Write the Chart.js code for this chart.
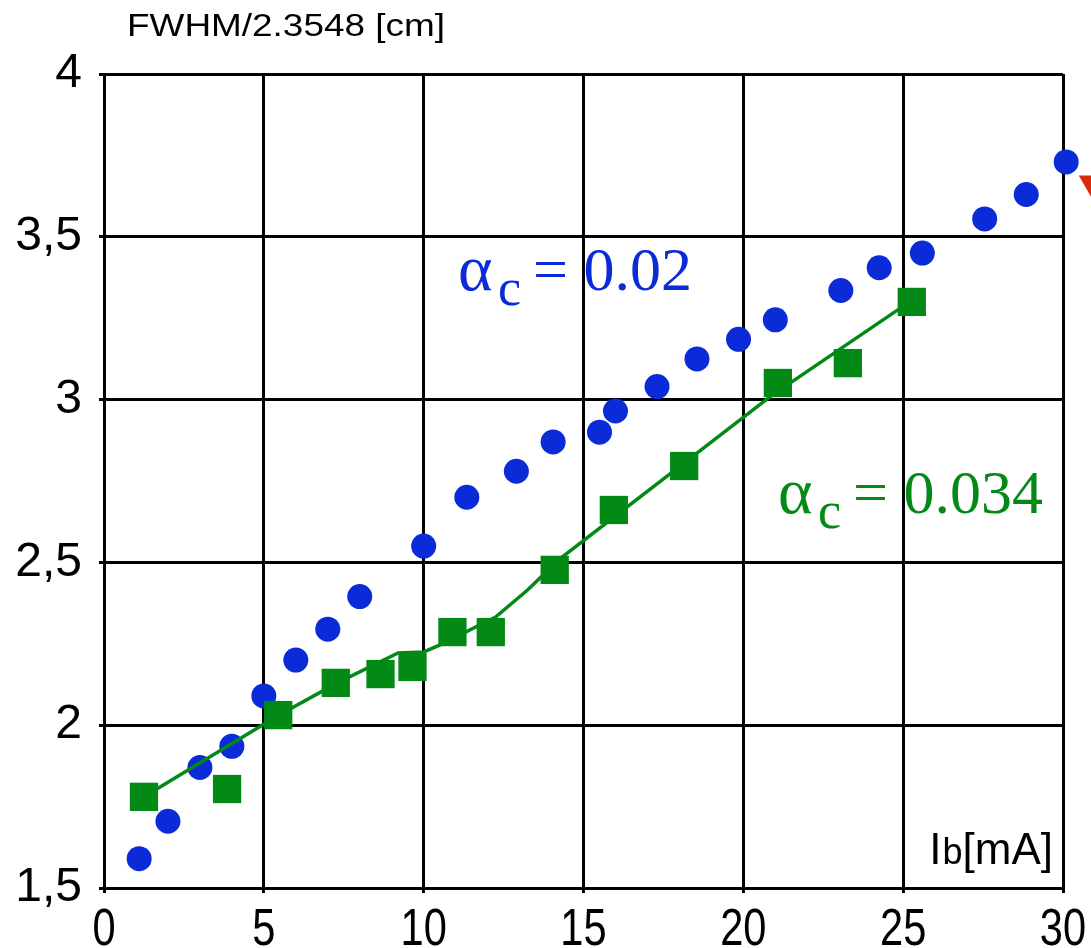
<!DOCTYPE html>
<html>
<head>
<meta charset="utf-8">
<script src="https://cdn.jsdelivr.net/npm/chart.js@4.4.1/dist/chart.umd.min.js"></script>
<style>
  html, body { margin: 0; padding: 0; background: #fff; }
  canvas { display: block; }
</style>
</head>
<body>
<canvas id="chart" width="1091" height="948"></canvas>
<script>
// beam current Ib [mA]
const xTicks = [0, 5, 10, 15, 20, 25, 30]
const yTicks = [1.5, 2, 2.5, 3, 3.5, 4]

// alpha_c = 0.02 (blue dots)
const blueX = [1.1, 2.0, 3.0, 4.0, 5.0, 6.0, 7.0, 8.0, 10.0, 11.35, 12.9, 14.05, 15.5, 16.0, 17.3, 18.55, 19.85, 21.0, 23.05, 24.25, 25.6, 27.55, 28.85, 30.1]
const blueY = [1.59, 1.705, 1.87, 1.935, 2.09, 2.2, 2.295, 2.395, 2.55, 2.7, 2.78, 2.87, 2.9, 2.965, 3.04, 3.125, 3.185, 3.245, 3.335, 3.405, 3.45, 3.555, 3.63, 3.73]

// alpha_c = 0.034 (green squares)
const greenX = [1.25, 3.85, 5.45, 7.25, 8.65, 9.65, 10.9, 12.1, 14.1, 15.95, 18.15, 21.08, 23.27, 25.27]
const greenY = [1.78, 1.804, 2.031, 2.13, 2.157, 2.179, 2.286, 2.286, 2.477, 2.661, 2.796, 3.051, 3.112, 3.30]

// green guide line
const fitX = [1.25, 5.45, 7.3, 9.2, 10.0, 10.5, 12.25, 13.25, 14.25, 20.85, 25.05]
const fitY = [1.78, 2.03, 2.13, 2.222, 2.225, 2.246, 2.332, 2.415, 2.51, 3.01, 3.29]

// third series, only its edge is visible past the right border
const redX = [30.9]
const redY = [3.665]

const BLUE = "#0b2bd8"
const GREEN = "#038a16"
const RED = "#d82c0c"

const pts = (xs, ys) => xs.map((x, i) => ({ x, y: ys[i] }))

const labelsPlugin = {
  id: "labels",
  afterDraw(chart) {
    const ctx = chart.ctx
    const xs = chart.scales.x
    ctx.save()
    ctx.textBaseline = "alphabetic"
    ctx.fillStyle = "#000"

    // x tick labels, a bit condensed like the original
    ctx.font = "52px 'Liberation Sans', Arial, sans-serif"
    ctx.textAlign = "center"
    xTicks.forEach((v) => {
      ctx.save()
      ctx.translate(xs.getPixelForValue(v), 945)
      ctx.scale(0.8, 1)
      ctx.fillText(String(v), 0, 0)
      ctx.restore()
    })

    // axis title, top left
    ctx.textAlign = "left"
    ctx.font = "31px 'Liberation Sans', Arial, sans-serif"
    const title = "FWHM/2.3548 [cm]"
    const sx = 318 / ctx.measureText(title).width
    ctx.save()
    ctx.translate(127, 36)
    ctx.scale(sx, 1)
    ctx.fillText(title, 0, 0)
    ctx.restore()

    // x unit, bottom right
    ctx.textAlign = "right"
    ctx.font = "44px 'Liberation Sans', Arial, sans-serif"
    ctx.fillText("[mA]", 1053, 864)
    const w1 = ctx.measureText("[mA]").width
    ctx.font = "36px 'Liberation Sans', Arial, sans-serif"
    ctx.fillText("b", 1053 - w1, 864)
    const w2 = ctx.measureText("b").width
    ctx.font = "44px 'Liberation Sans', Arial, sans-serif"
    ctx.fillText("I", 1053 - w1 - w2 - 1, 864)

    // alpha labels
    const alpha = (color, x, y, value) => {
      ctx.textAlign = "left"
      ctx.fillStyle = color
      ctx.font = "66px 'Liberation Serif', 'Times New Roman', serif"
      ctx.fillText("\u03b1", x, y)
      ctx.font = "52px 'Liberation Serif', 'Times New Roman', serif"
      ctx.fillText("c", x + 40, y + 15)
      ctx.font = "62px 'Liberation Serif', 'Times New Roman', serif"
      ctx.fillText("= " + value, x + 75, y)
    }
    alpha(BLUE, 458, 290, "0.02")
    alpha(GREEN, 778, 513, "0.034")
    ctx.restore()
  }
}

new Chart(document.getElementById("chart"), {
  type: "scatter",
  data: {
    datasets: [
      {
        label: "alpha_c = 0.034",
        data: pts(greenX, greenY),
        pointStyle: "rect",
        pointRadius: 20,
        backgroundColor: GREEN,
        borderColor: GREEN,
        borderWidth: 0,
        clip: false,
        order: 0
      },
      {
        label: "fit",
        data: pts(fitX, fitY),
        showLine: true,
        pointRadius: 0,
        borderColor: GREEN,
        borderWidth: 3.5,
        clip: false,
        order: 1
      },
      {
        label: "alpha_c = 0.02",
        data: pts(blueX, blueY),
        pointStyle: "circle",
        pointRadius: 12.5,
        backgroundColor: BLUE,
        borderColor: BLUE,
        borderWidth: 0,
        clip: false,
        order: 2
      },
      {
        // wide transparent border only widens the in-area margin so the point is drawn
        label: "other",
        data: pts(redX, redY),
        pointStyle: "triangle",
        rotation: 180,
        pointRadius: 15,
        backgroundColor: RED,
        borderColor: "rgba(0,0,0,0)",
        borderWidth: 25,
        clip: false,
        order: 3
      }
    ]
  },
  options: {
    responsive: false,
    animation: false,
    events: [],
    layout: { autoPadding: false, padding: { top: 74, right: 28, left: 0, bottom: 0 } },
    plugins: {
      legend: { display: false },
      tooltip: { enabled: false }
    },
    scales: {
      x: {
        type: "linear",
        min: xTicks[0],
        max: xTicks[xTicks.length - 1],
        afterBuildTicks: (s) => { s.ticks = xTicks.map((v) => ({ value: v })) },
        afterFit: (s) => { s.height = 60 },
        ticks: { display: false },
        grid: { color: "#000", lineWidth: 3, tickLength: 5 },
        border: { color: "#000", width: 3 }
      },
      y: {
        type: "linear",
        min: yTicks[0],
        max: yTicks[yTicks.length - 1],
        afterBuildTicks: (s) => { s.ticks = yTicks.map((v) => ({ value: v })) },
        afterFit: (s) => { s.width = 104 },
        ticks: {
          color: "#000",
          padding: 17,
          font: { family: "'Liberation Sans', Arial, sans-serif", size: 48 },
          callback: (v) => String(v).replace(".", ",")
        },
        grid: { color: "#000", lineWidth: 3, tickLength: 5 },
        border: { color: "#000", width: 3 }
      }
    }
  },
  plugins: [labelsPlugin]
})
</script>
</body>
</html>
